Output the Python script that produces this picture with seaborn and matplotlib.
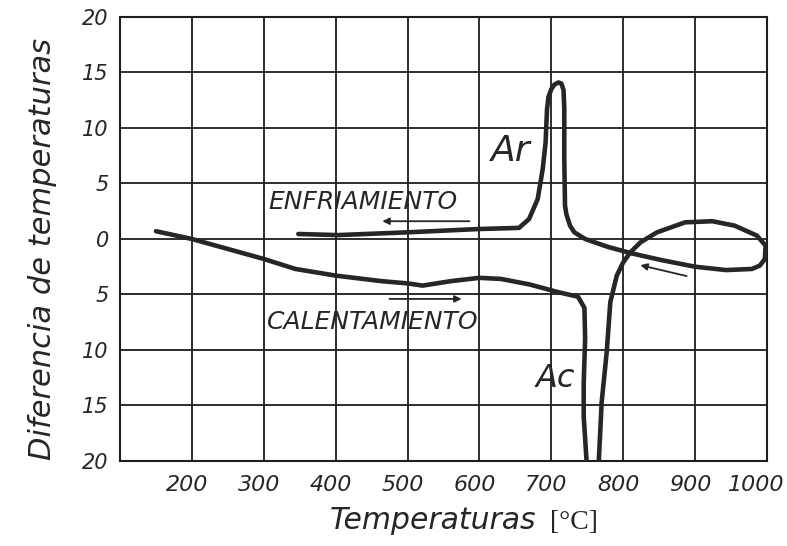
import matplotlib
matplotlib.use("Agg")
import matplotlib.pyplot as plt
import matplotlib.transforms as mtransforms
from matplotlib.ticker import FuncFormatter
import pandas as pd
import seaborn as sns

# Heating trace (calentamiento): temperature [°C] vs. temperature difference
heat_t = [150, 200, 250, 300, 344, 400, 464, 500, 521, 560, 600, 630, 670, 710,
          737, 746, 747, 745, 745, 749, 751, 768, 766, 770, 777, 782, 791, 800,
          810, 824, 847, 886, 924, 955, 986, 998, 997]
heat_d = [0.7, 0.0, -0.9, -1.8, -2.7, -3.3, -3.8, -4.0, -4.2, -3.8, -3.5, -3.6,
          -4.1, -4.8, -5.2, -6.2, -9.0, -13.0, -16.0, -20.0, -22.0, -22.0, -20.0,
          -14.7, -10.2, -5.7, -3.3, -2.1, -1.2, -0.3, 0.6, 1.5, 1.6, 1.2, 0.3,
          -0.6, -1.8]

# Cooling trace (enfriamiento), from 1000 °C back down through the Ar peak
cool_t = [997, 990, 979, 943, 900, 853, 812, 778, 747, 732, 726, 721, 719, 718,
          718, 717, 714, 710, 704, 700, 696, 694, 692, 688, 681, 669, 655, 600,
          500, 403, 348]
cool_d = [-1.8, -2.4, -2.7, -2.8, -2.5, -1.9, -1.3, -0.7, 0.0, 0.6, 1.2, 2.2,
          3.0, 7.2, 11.7, 13.4, 14.0, 14.1, 13.9, 13.5, 12.8, 11.7, 8.7, 6.3,
          3.6, 1.8, 1.0, 0.9, 0.6, 0.35, 0.45]

x_ticks = [200, 300, 400, 500, 600, 700, 800, 900, 1000]
y_ticks = [-20, -15, -10, -5, 0, 5, 10, 15, 20]

sns.set_style("white")
plt.rcParams["font.family"] = ["DejaVu Sans"]

ink = "#262626"
grid_ink = "#1e1e1e"

fig = plt.figure(figsize=(7.87, 5.46), dpi=100)
ax = fig.add_axes([0.1525, 0.1557, 0.8221, 0.8132])

heat = pd.DataFrame({"t": heat_t, "d": heat_d})
cool = pd.DataFrame({"t": cool_t, "d": cool_d})
for frame in (heat, cool):
    sns.lineplot(data=frame, x="t", y="d", sort=False, estimator=None, ax=ax,
                 color=ink, linewidth=3.3, solid_capstyle="round",
                 solid_joinstyle="round", zorder=3)

ax.set_xlim(100, 1000)
ax.set_ylim(-20, 20)
ax.set_xticks(x_ticks)
ax.set_yticks(y_ticks)
# the scale below zero is written without a minus sign
ax.yaxis.set_major_formatter(FuncFormatter(lambda v, p: f"{abs(v):g}"))
ax.grid(True, color=grid_ink, linewidth=1.3)
ax.set_axisbelow(True)
for s in ax.spines.values():
    s.set_visible(True)
    s.set_color(grid_ink)
    s.set_linewidth(1.5)

ax.tick_params(axis="both", length=0, colors=ink)
ax.tick_params(axis="x", pad=10)
ax.tick_params(axis="y", pad=8)
xlabels = ax.get_xticklabels()
for i, lab in enumerate(xlabels):
    lab.set_fontsize(16)
    lab.set_fontstyle("italic")
    dx = -5 if i < len(xlabels) - 1 else -11
    lab.set_transform(lab.get_transform() +
                      mtransforms.ScaledTranslation(dx / 100, 0, fig.dpi_scale_trans))
for lab in ax.get_yticklabels():
    lab.set_fontsize(15)
    lab.set_fontstyle("italic")

ax.set_xlabel("")
ax.set_ylabel("Diferencia de temperaturas", fontsize=22, fontstyle="italic",
              color=ink)
ax.yaxis.set_label_coords(-0.097, 0.477)
fig.text(0.419, 0.031, "Temperaturas", fontsize=21.5, fontstyle="italic",
         color=ink, ha="left", va="baseline")
fig.text(0.699, 0.031, "[°C]", fontsize=20, family="Liberation Serif",
         color=ink, ha="left", va="baseline")

# Curve annotations
ax.text(307, 3.3, "ENFRIAMIENTO", fontsize=18, fontstyle="italic", color=ink,
        ha="left", va="center")
ax.annotate("", xy=(461, 1.6), xytext=(590, 1.6),
            arrowprops=dict(arrowstyle="-|>", color=ink, lw=1.3,
                            mutation_scale=10))
ax.text(304, -7.5, "CALENTAMIENTO", fontsize=18, fontstyle="italic", color=ink,
        ha="left", va="center")
ax.annotate("", xy=(579, -5.4), xytext=(471, -5.4),
            arrowprops=dict(arrowstyle="-|>", color=ink, lw=1.3,
                            mutation_scale=10))
ax.annotate("", xy=(820, -2.3), xytext=(892, -3.4),
            arrowprops=dict(arrowstyle="-|>", color=ink, lw=1.3,
                            mutation_scale=10))
ax.text(643, 7.9, "Ar", fontsize=26, fontstyle="italic", color=ink,
        ha="center", va="center")
ax.text(706, -12.6, "Ac", fontsize=23, fontstyle="italic", color=ink,
        ha="center", va="center")

fig.savefig("out.png", dpi=100, facecolor="white")
